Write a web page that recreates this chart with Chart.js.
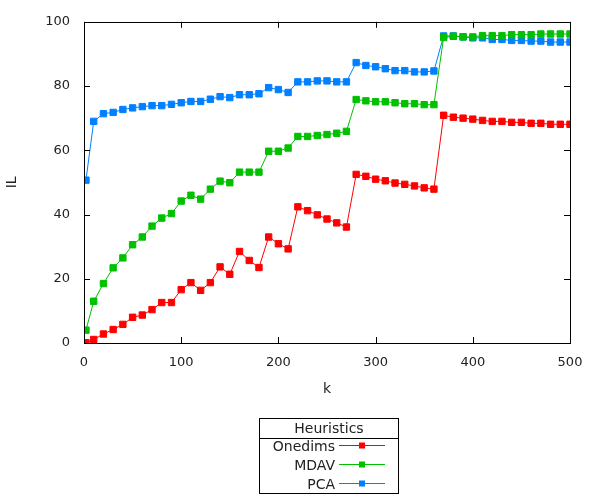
<!DOCTYPE html>
<html>
<head>
<meta charset="utf-8">
<script src="https://cdn.jsdelivr.net/npm/chart.js@4.4.1/dist/chart.umd.min.js"></script>
<style>
  html, body { margin: 0; padding: 0; background: #fff; }
  #wrap { width: 600px; height: 500px; }
</style>
</head>
<body>
<div id="wrap"><canvas id="ilChart"></canvas></div>
<script>
// k values (x axis)
const kValues = [2, 10, 20, 30, 40, 50, 60, 70, 80, 90, 100, 110, 120, 130, 140, 150, 160, 170, 180, 190,
  200, 210, 220, 230, 240, 250, 260, 270, 280, 290, 300, 310, 320, 330, 340, 350, 360, 370, 380, 390,
  400, 410, 420, 430, 440, 450, 460, 470, 480, 490, 500];

const onedims = [0.1, 1.1, 2.8, 4.2, 5.8, 8.0, 8.7, 10.4, 12.6, 12.6, 16.6, 18.8, 16.4, 18.8, 23.7, 21.4, 28.5, 25.7, 23.5, 33.0,
  30.9, 29.3, 42.4, 41.2, 39.9, 38.6, 37.4, 36.1, 52.5, 51.9, 51.0, 50.5, 49.8, 49.4, 48.9, 48.3, 47.9, 70.9, 70.3, 70.0,
  69.7, 69.3, 69.0, 69.0, 68.7, 68.7, 68.4, 68.4, 68.1, 68.1, 68.1];

const mdav = [4.0, 13.0, 18.5, 23.4, 26.5, 30.6, 33.0, 36.4, 38.9, 40.3, 44.2, 46.0, 44.8, 47.9, 50.4, 49.9, 53.2, 53.2, 53.2, 59.7,
  59.7, 60.7, 64.3, 64.3, 64.6, 64.9, 65.3, 65.9, 75.8, 75.4, 75.1, 75.1, 74.8, 74.5, 74.5, 74.2, 74.2, 95.1, 95.5, 95.3,
  95.3, 95.7, 95.7, 95.7, 96.0, 96.0, 96.0, 96.2, 96.2, 96.2, 96.2];

const pca = [50.7, 69.0, 71.4, 71.8, 72.7, 73.2, 73.6, 73.9, 73.9, 74.3, 74.8, 75.2, 75.2, 75.9, 76.7, 76.4, 77.3, 77.3, 77.6, 79.5,
  78.9, 78.0, 81.3, 81.3, 81.6, 81.6, 81.3, 81.3, 87.3, 86.4, 86.0, 85.4, 84.8, 84.8, 84.4, 84.4, 84.7, 95.6, 95.6, 95.3,
  95.0, 95.0, 94.5, 94.5, 94.2, 94.2, 94.0, 94.0, 93.7, 93.7, 93.7];

const seriesNames = ['Onedims', 'MDAV', 'PCA'];
const seriesColors = ['#ff0000', '#00c000', '#0080ff'];
const xTicks = [0, 100, 200, 300, 400, 500];
const yTicks = [0, 20, 40, 60, 80, 100];

const FONT = 'DejaVu Sans, sans-serif';
const TEXT = '#222';

const toPoints = arr => arr.map((v, i) => ({ x: kValues[i], y: v }));

// gnuplot-style frame, inward ticks and the boxed legend under the plot
const framePlugin = {
  id: 'frame',
  afterDraw(chart) {
    const { ctx, chartArea: a, scales } = chart;
    ctx.save();
    ctx.strokeStyle = '#000';
    ctx.lineWidth = 1;
    ctx.strokeRect(Math.round(a.left) + 0.5, Math.round(a.top) + 0.5,
      Math.round(a.right - a.left), Math.round(a.bottom - a.top));
    const tl = 6;
    ctx.beginPath();
    xTicks.forEach(t => {
      const px = Math.round(scales.x.getPixelForValue(t)) + 0.5;
      ctx.moveTo(px, a.bottom); ctx.lineTo(px, a.bottom - tl);
      ctx.moveTo(px, a.top); ctx.lineTo(px, a.top + tl);
    });
    yTicks.forEach(t => {
      const py = Math.round(scales.y.getPixelForValue(t)) + 0.5;
      ctx.moveTo(a.left, py); ctx.lineTo(a.left + tl, py);
      ctx.moveTo(a.right, py); ctx.lineTo(a.right - tl, py);
    });
    ctx.stroke();

    // legend box
    const bx = 259.5, by = 418.5, bw = 139, bh = 75;
    ctx.strokeRect(bx, by, bw, bh);
    ctx.beginPath();
    ctx.moveTo(bx, by + 20); ctx.lineTo(bx + bw, by + 20);
    ctx.stroke();
    ctx.fillStyle = TEXT;
    ctx.font = '14px ' + FONT;
    ctx.textAlign = 'center';
    ctx.textBaseline = 'middle';
    ctx.fillText('Heuristics', bx + bw / 2, by + 10.5);
    const rows = [447, 466, 485];
    seriesNames.forEach((name, i) => {
      const y = rows[i];
      ctx.fillStyle = TEXT;
      ctx.textAlign = 'right';
      ctx.fillText(name, 335, y);
      ctx.strokeStyle = seriesColors[i];
      ctx.beginPath();
      ctx.moveTo(339, y - 1.5); ctx.lineTo(385, y - 1.5);
      ctx.stroke();
      ctx.fillStyle = seriesColors[i];
      ctx.fillRect(359, y - 4.5, 6, 6);
    });
    ctx.restore();
  }
};

new Chart(document.getElementById('ilChart'), {
  type: 'line',
  plugins: [framePlugin],
  data: {
    datasets: [onedims, mdav, pca].map((arr, i) => ({
      label: seriesNames[i],
      data: toPoints(arr),
      borderColor: seriesColors[i],
      backgroundColor: seriesColors[i],
      borderWidth: 1,
      pointStyle: 'rect',
      pointRadius: 4.5,
      pointBorderWidth: 1,
      tension: 0
    }))
  },
  options: {
    responsive: true,
    maintainAspectRatio: false,
    animation: false,
    layout: { padding: { left: 0, right: 30, top: 20, bottom: 97 } },
    plugins: {
      legend: { display: false },
      tooltip: { enabled: false }
    },
    scales: {
      x: {
        type: 'linear',
        min: 0,
        max: 500,
        afterFit: s => { s.height = 60; },
        afterBuildTicks: s => { s.ticks = xTicks.map(v => ({ value: v })); },
        grid: { display: false, drawTicks: false },
        border: { display: false },
        ticks: { color: TEXT, padding: 12, font: { family: FONT, size: 13 } },
        title: { display: true, text: 'k', color: TEXT, padding: { top: 0, bottom: 5 }, font: { family: FONT, size: 14 } }
      },
      y: {
        min: 0,
        max: 100,
        afterFit: s => { s.width = 84; },
        afterBuildTicks: s => { s.ticks = yTicks.map(v => ({ value: v })); },
        grid: { display: false, drawTicks: false },
        border: { display: false },
        ticks: { color: TEXT, padding: 14, font: { family: FONT, size: 13 } },
        title: { display: true, text: 'IL', color: TEXT, padding: { top: 4, bottom: 0 }, font: { family: FONT, size: 14 } }
      }
    }
  }
});
</script>
</body>
</html>
